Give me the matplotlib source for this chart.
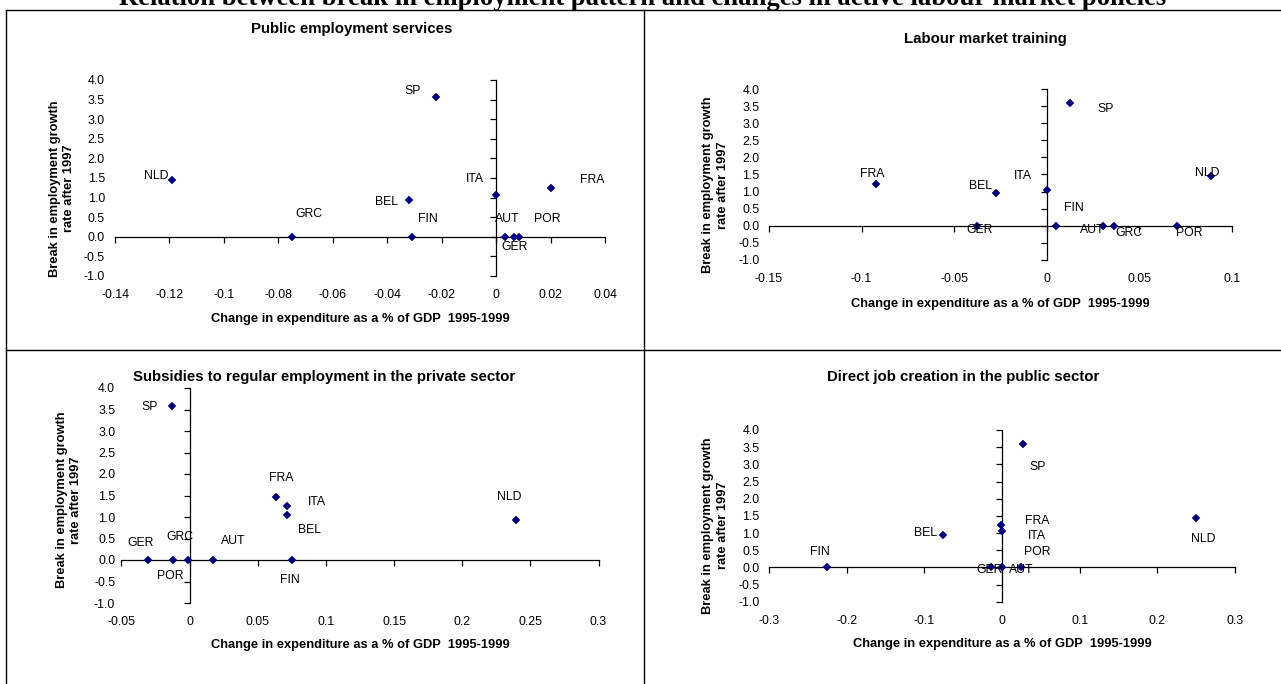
import matplotlib

matplotlib.use("Agg")
import matplotlib.pyplot as plt
from matplotlib.lines import Line2D

W, H = 1281, 684

COUNTRIES = ["AUT", "BEL", "FIN", "FRA", "GER", "GRC", "ITA", "NLD", "POR", "SP"]
YTICKS = [-1.0, -0.5, 0.0, 0.5, 1.0, 1.5, 2.0, 2.5, 3.0, 3.5, 4.0]

# Public employment services
PES_X = [0.0034, -0.032, -0.031, 0.020, 0.0064, -0.075, 0.0, -0.119, 0.0085, -0.022]
PES_Y = [0.0, 0.95, 0.0, 1.25, 0.0, 0.0, 1.07, 1.46, 0.0, 3.57]
PES_XTICKS = [-0.14, -0.12, -0.1, -0.08, -0.06, -0.04, -0.02, 0, 0.02, 0.04]

# Labour market training
LMT_X = [0.0303, -0.0273, 0.0051, -0.0922, -0.0377, 0.0361, 0.0, 0.0886, 0.0705, 0.0126]
LMT_Y = [0.0, 0.96, 0.0, 1.23, 0.0, 0.0, 1.06, 1.45, 0.0, 3.59]
LMT_XTICKS = [-0.15, -0.1, -0.05, 0, 0.05, 0.1]

# Subsidies to regular employment in the private sector
SUB_X = [0.0175, 0.0712, 0.0753, 0.0634, -0.0302, -0.0014, 0.0712, 0.2395, -0.0125, -0.0131]
SUB_Y = [0.0, 1.05, 0.0, 1.46, 0.0, 0.0, 1.25, 0.94, 0.0, 3.59]
SUB_XTICKS = [-0.05, 0, 0.05, 0.1, 0.15, 0.2, 0.25, 0.3]

# Direct job creation in the public sector (no GRC point)
DJC_COUNTRIES = ["AUT", "BEL", "FIN", "FRA", "GER", "ITA", "NLD", "POR", "SP"]
DJC_X = [0.0242, -0.0759, -0.2257, -0.0016, -0.0142, 0.0005, 0.2504, 0.0005, 0.0269]
DJC_Y = [0.0, 0.95, 0.0, 1.23, 0.0, 1.06, 1.45, 0.0, 3.59]
DJC_XTICKS = [-0.3, -0.2, -0.1, 0, 0.1, 0.2, 0.3]

# data label offsets in pixels (right, down)
PES_OFFSETS = {"AUT": (2, -18), "BEL": (-23, 2), "FIN": (16, -18), "FRA": (42, -8),
               "GER": (1, 10), "GRC": (17, -23), "ITA": (-21, -16), "NLD": (-16, -4),
               "POR": (28, -18), "SP": (-24, -6)}
LMT_OFFSETS = {"AUT": (-11, 4), "BEL": (-16, -7), "FIN": (18, -18), "FRA": (-4, -10),
               "GER": (3, 4), "GRC": (15, 7), "ITA": (-24, -14), "NLD": (-4, -3),
               "POR": (12, 7), "SP": (35, 6)}
SUB_OFFSETS = {"AUT": (20, -19), "BEL": (23, 15), "FIN": (-2, 20), "FRA": (5, -19),
               "GER": (-8, -17), "GRC": (-8, -23), "ITA": (30, -4), "NLD": (-7, -23),
               "POR": (-2, 16), "SP": (-22, 1)}
DJC_OFFSETS = {"AUT": (0, 3), "BEL": (-18, -2), "FIN": (-7, -15), "FRA": (36, -4),
               "GER": (-1, 3), "ITA": (34, 5), "NLD": (7, 21), "POR": (35, -15),
               "SP": (15, 23)}

XLABEL = "Change in expenditure as a % of GDP  1995-1999"
YLABEL = "Break in employment growth\nrate after 1997"
MARKER_COLOR = "#000080"

PANELS = [
    dict(title="Public employment services", names=COUNTRIES, x=PES_X, y=PES_Y,
         xticks=PES_XTICKS, offsets=PES_OFFSETS,
         box=(115, 80, 605, 276), title_xy=(352, 29), ypad=7.2,
         xlab=-0.219, ylab=(-0.108, 0.446)),
    dict(title="Labour market training", names=COUNTRIES, x=LMT_X, y=LMT_Y,
         xticks=LMT_XTICKS, offsets=LMT_OFFSETS,
         box=(769, 89, 1232, 260), title_xy=(985, 39), ypad=6.8,
         xlab=-0.258, ylab=(-0.116, 0.44)),
    dict(title="Subsidies to regular employment in the private sector", names=COUNTRIES,
         x=SUB_X, y=SUB_Y, xticks=SUB_XTICKS, offsets=SUB_OFFSETS,
         box=(121.5, 388, 598.5, 603), title_xy=(324, 377), ypad=4.5,
         xlab=-0.197, ylab=(-0.110, 0.48)),
    dict(title="Direct job creation in the public sector", names=DJC_COUNTRIES,
         x=DJC_X, y=DJC_Y, xticks=DJC_XTICKS, offsets=DJC_OFFSETS,
         box=(769, 430, 1235, 601.7), title_xy=(963, 377), ypad=6.8,
         xlab=-0.248, ylab=(-0.115, 0.443)),
]


def general_fmt(v):
    s = f"{round(v, 4):g}"
    return "0" if s == "-0" else s


def draw_panel(fig, p):
    l, t, r, b = p["box"]
    ax = fig.add_axes([l / W, 1 - b / H, (r - l) / W, (b - t) / H])
    ax.patch.set_alpha(0)
    xmin, xmax = p["xticks"][0], p["xticks"][-1]
    ax.set_xlim(xmin, xmax)
    ax.set_ylim(-1, 4)
    for s in ax.spines.values():
        s.set_visible(False)

    ax.set_xticks(p["xticks"])
    ax.set_xticklabels([general_fmt(v) for v in p["xticks"]])
    ax.set_yticks(YTICKS)
    ax.set_yticklabels([f"{v:.1f}" for v in YTICKS])
    ax.tick_params(axis="x", length=0, pad=9.6, labelsize=8.9)
    ax.tick_params(axis="y", length=0, pad=p["ypad"], labelsize=8.9)

    # axes crossing at zero, Excel style
    sx = ax.secondary_xaxis((0 - (-1)) / (4 - (-1)))
    sx.set_alignment("bottom")
    sx.set_xticks(p["xticks"])
    sx.tick_params(direction="out", length=4, width=0.9,
                   labelbottom=False, labeltop=False)
    sx.spines["bottom"].set_linewidth(0.9)
    sy = ax.secondary_yaxis((0 - xmin) / (xmax - xmin))
    sy.set_alignment("left")
    sy.set_yticks(YTICKS)
    sy.tick_params(direction="out", length=4, width=0.9,
                   labelleft=False, labelright=False)
    sy.spines["left"].set_linewidth(0.9)

    ax.plot(p["x"], p["y"], "D", color=MARKER_COLOR, ms=3.8, mew=0.3,
            zorder=5, clip_on=False)
    for name, xv, yv in zip(p["names"], p["x"], p["y"]):
        dx, dy = p["offsets"][name]
        ax.annotate(name, (xv, yv), xytext=(dx, -dy), textcoords="offset pixels",
                    ha="center", va="center", fontsize=8.8, zorder=6)

    ax.set_xlabel(XLABEL, fontsize=9.3, fontweight="bold")
    ax.xaxis.label.set_va("center")
    ax.xaxis.set_label_coords(0.5, p["xlab"])
    ax.set_ylabel(YLABEL, fontsize=9.3, fontweight="bold", linespacing=1.3)
    ax.yaxis.label.set_va("center")
    ax.yaxis.set_label_coords(*p["ylab"])

    tx, ty = p["title_xy"]
    fig.text(tx / W, 1 - ty / H, p["title"], ha="center", va="center",
             fontsize=10.8, fontweight="bold")
    return ax


def main():
    plt.rcParams.update({
        "font.family": ["Liberation Sans", "DejaVu Sans"],
        "figure.dpi": 100,
        "savefig.dpi": 100,
    })
    fig = plt.figure(figsize=(W / 100, H / 100), facecolor="white")

    fig.text(643 / W, 1 - 5 / H,
             "Relation between break in employment pattern and changes in active labour market policies",
             ha="center", va="baseline", fontsize=19.2, fontweight="bold",
             family=["Liberation Serif", "DejaVu Serif"])

    # table frame around the four charts
    frame = [((6, 10), (W, 10)), ((6, 350), (W, 350)),
             ((6, 10), (6, H)), ((644, 10), (644, H))]
    for (x0, y0), (x1, y1) in frame:
        fig.add_artist(Line2D([x0 / W, x1 / W], [1 - y0 / H, 1 - y1 / H],
                              transform=fig.transFigure, color="black", lw=1.0))

    for p in PANELS:
        draw_panel(fig, p)

    fig.savefig("out.png", dpi=100, facecolor="white")
    plt.close(fig)


if __name__ == "__main__":
    main()
